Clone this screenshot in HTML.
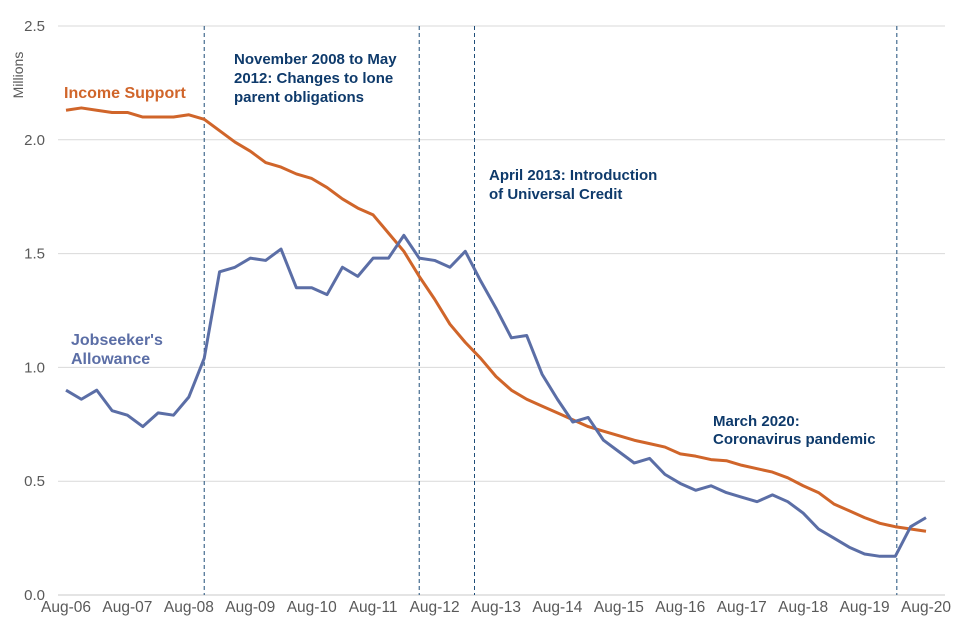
<!DOCTYPE html>
<html><head><meta charset="utf-8"><style>
body{margin:0;background:#fff;}
svg{display:block;font-family:"Liberation Sans",Arial,sans-serif;}
</style></head><body>
<svg id="chart" width="960" height="640" viewBox="0 0 960 640" xmlns="http://www.w3.org/2000/svg">
<g id="grid"></g>
<g id="yticks"></g>
<g id="xticks"></g>
<g id="events"></g>
<g id="series"></g>
<text transform="translate(23,75) rotate(-90)" text-anchor="middle" font-size="14" fill="#595959">Millions</text>
<text x="64" y="98" font-size="16" font-weight="bold" fill="#d0652a">Income Support</text>
<text font-size="16" font-weight="bold" fill="#5b6ea6"><tspan x="71" y="345">Jobseeker's</tspan><tspan x="71" y="364">Allowance</tspan></text>
<text font-size="15" font-weight="bold" fill="#0e3a6b"><tspan x="234" y="64">November 2008 to May</tspan><tspan x="234" y="83">2012: Changes to lone</tspan><tspan x="234" y="102">parent obligations</tspan></text>
<text font-size="15" font-weight="bold" fill="#0e3a6b"><tspan x="489" y="180">April 2013: Introduction</tspan><tspan x="489" y="199">of Universal Credit</tspan></text>
<text font-size="15" font-weight="bold" fill="#0e3a6b"><tspan x="713" y="426">March 2020:</tspan><tspan x="713" y="444">Coronavirus pandemic</tspan></text>
</svg>
<script>
const xLabels=["Aug-06","Aug-07","Aug-08","Aug-09","Aug-10","Aug-11","Aug-12","Aug-13","Aug-14","Aug-15","Aug-16","Aug-17","Aug-18","Aug-19","Aug-20"];
const yTicks=[0,0.5,1.0,1.5,2.0,2.5];
const incomeSupport=[2.13,2.14,2.13,2.12,2.12,2.10,2.10,2.10,2.11,2.09,2.04,1.99,1.95,1.90,1.88,1.85,1.83,1.79,1.74,1.70,1.67,1.59,1.51,1.40,1.30,1.19,1.11,1.04,0.96,0.90,0.86,0.83,0.80,0.77,0.74,0.72,0.70,0.68,0.665,0.65,0.62,0.61,0.595,0.59,0.57,0.555,0.54,0.515,0.48,0.45,0.40,0.37,0.34,0.315,0.30,0.29,0.28];
const jobseekers=[0.90,0.86,0.90,0.81,0.79,0.74,0.80,0.79,0.87,1.04,1.42,1.44,1.48,1.47,1.52,1.35,1.35,1.32,1.44,1.40,1.48,1.48,1.58,1.48,1.47,1.44,1.51,1.38,1.26,1.13,1.14,0.97,0.86,0.76,0.78,0.68,0.63,0.58,0.60,0.53,0.49,0.46,0.48,0.45,0.43,0.41,0.44,0.41,0.36,0.29,0.25,0.21,0.18,0.17,0.17,0.30,0.34];
const eventQuarters=[9.0,23.0,26.6,54.1];

const NS="http://www.w3.org/2000/svg";
const x0=66,x1=926,nQ=56;
function xq(i){return x0+(x1-x0)*i/nQ;}
function y(v){return 595-v*(595-26)/2.5;}
function mk(tag,attrs,parent){const e=document.createElementNS(NS,tag);for(const k in attrs)e.setAttribute(k,attrs[k]);parent.appendChild(e);return e;}
const grid=document.getElementById('grid'),yt=document.getElementById('yticks'),xt=document.getElementById('xticks'),ev=document.getElementById('events'),se=document.getElementById('series');
yTicks.forEach(v=>{
  const l=mk('line',{x1:58,x2:945,y1:y(v),y2:y(v),stroke:v===0?'#c8c8c8':'#d9d9d9','stroke-width':1},grid);
  
  
  const t=mk('text',{x:45,y:y(v)+5,'text-anchor':'end','font-size':15,fill:'#595959'},yt);
  t.textContent=v.toFixed(1);
  
  
});
xLabels.forEach((s,k)=>{
  const t=mk('text',{x:xq(k*4),y:612,'text-anchor':'middle','font-size':15.5,fill:'#595959'},xt);
  t.textContent=s;
  
  
});
eventQuarters.forEach(q=>{
  const l=mk('line',{x1:xq(q),x2:xq(q),y1:26,y2:595,stroke:'#1f4e79','stroke-width':1,'stroke-dasharray':'4,3'},ev);
  
  
});
function line(data,color,name){
  const p=mk('polyline',{points:data.map((v,i)=>xq(i)+','+y(v)).join(' '),fill:'none',stroke:color,'stroke-width':3,'stroke-linejoin':'round'},se);
  
  
}
line(incomeSupport,'#d0652a','income-support-line');
line(jobseekers,'#5b6ea6','jobseekers-allowance-line');
</script>
</body></html>
